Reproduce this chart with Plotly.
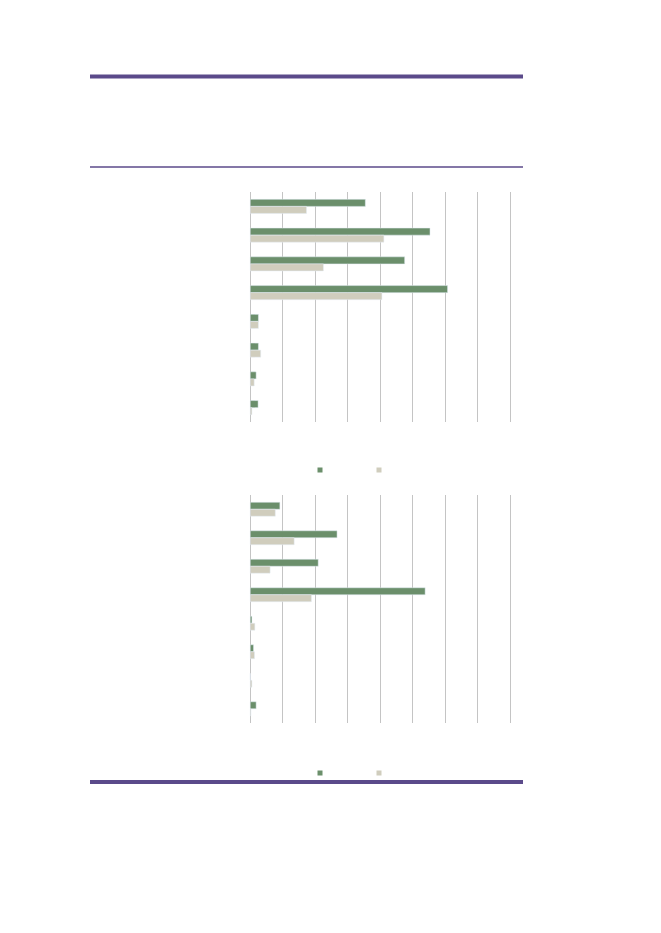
import plotly.graph_objects as go

# Category slots (labels are not printed in the reference)
categories = ["c1", "c2", "c3", "c4", "c5", "c6", "c7", "c8"]

# Upper chart values
upper_green = [3.54, 5.53, 4.75, 6.07, 0.25, 0.25, 0.18, 0.24]
upper_beige = [1.73, 4.11, 2.25, 4.05, 0.25, 0.32, 0.12, 0.05]

# Lower chart values
lower_green = [0.91, 2.67, 2.09, 5.38, 0.05, 0.10, 0.0, 0.18]
lower_beige = [0.77, 1.35, 0.61, 1.88, 0.14, 0.13, 0.05, 0.02]

GREEN = "#6b8f6b"
BEIGE = "#d0cdbd"
PURPLE = "#5b4a8a"
GRID = "#c4c4c4"

# page body has an 8px margin, so the figure is shrunk to fit the window
PAD = 8
W, H = 661 - 2 * PAD, 933 - 2 * PAD

# one unit on the value axis is ~32.5px; pad the range so end gridlines are drawn
UNIT = 32.5
X_LO, X_HI = -0.15, 8.15


def px_x(x):
    return (x - PAD) / W


def px_y(y):
    return 1 - (y - PAD) / H


fig = go.Figure()

# Upper chart bars
fig.add_trace(go.Bar(y=categories, x=upper_green, orientation="h", marker_color=GREEN,
                     showlegend=False, xaxis="x", yaxis="y"))
fig.add_trace(go.Bar(y=categories, x=upper_beige, orientation="h", marker_color=BEIGE,
                     showlegend=False, xaxis="x", yaxis="y"))

# Lower chart bars
fig.add_trace(go.Bar(y=categories, x=lower_green, orientation="h", marker_color=GREEN,
                     showlegend=False, xaxis="x2", yaxis="y2"))
fig.add_trace(go.Bar(y=categories, x=lower_beige, orientation="h", marker_color=BEIGE,
                     showlegend=False, xaxis="x2", yaxis="y2"))

# Legend proxies (small squares, no text in the reference)
for color, leg, ax, ay in [(GREEN, "legend", "x", "y"), (BEIGE, "legend", "x", "y"),
                           (GREEN, "legend2", "x2", "y2"), (BEIGE, "legend2", "x2", "y2")]:
    fig.add_trace(go.Scatter(x=[None], y=[None], mode="markers", name=" ",
                             marker=dict(symbol="square", size=5, color=color),
                             legend=leg, xaxis=ax, yaxis=ay))

axis_x = dict(range=[X_LO, X_HI], tick0=0, dtick=1, showgrid=True, gridcolor=GRID, gridwidth=1,
              showticklabels=False, zeroline=False, showline=False, ticks="")
axis_y = dict(autorange="reversed", showgrid=False, showticklabels=False,
              zeroline=False, showline=False, ticks="")

legend_style = dict(orientation="h", xanchor="left", yanchor="middle",
                    entrywidth=14, entrywidthmode="pixels", itemsizing="trace",
                    bgcolor="rgba(0,0,0,0)", font=dict(size=8))

x_dom = [px_x(250.3 + X_LO * UNIT), px_x(250.3 + X_HI * UNIT)]

fig.update_layout(
    width=W,
    height=H,
    margin=dict(l=0, r=0, t=0, b=0),
    paper_bgcolor="white",
    plot_bgcolor="white",
    barmode="group",
    bargap=0.51,
    bargroupgap=0,
    xaxis=dict(domain=x_dom, anchor="y", **axis_x),
    yaxis=dict(domain=[px_y(422), px_y(192)], anchor="x", **axis_y),
    xaxis2=dict(domain=x_dom, anchor="y2", **axis_x),
    yaxis2=dict(domain=[px_y(723), px_y(495)], anchor="x2", **axis_y),
    legend=dict(x=px_x(300), y=px_y(470), **legend_style),
    legend2=dict(x=px_x(300), y=px_y(773), **legend_style),
    shapes=[
        dict(type="line", xref="paper", yref="paper", x0=px_x(90), x1=px_x(523),
             y0=px_y(76.5), y1=px_y(76.5), line=dict(color=PURPLE, width=4)),
        dict(type="line", xref="paper", yref="paper", x0=px_x(90), x1=px_x(523),
             y0=px_y(167), y1=px_y(167), line=dict(color=PURPLE, width=1.5)),
        dict(type="line", xref="paper", yref="paper", x0=px_x(90), x1=px_x(523),
             y0=px_y(782), y1=px_y(782), line=dict(color=PURPLE, width=4)),
    ],
)

fig.write_html("out.html")
